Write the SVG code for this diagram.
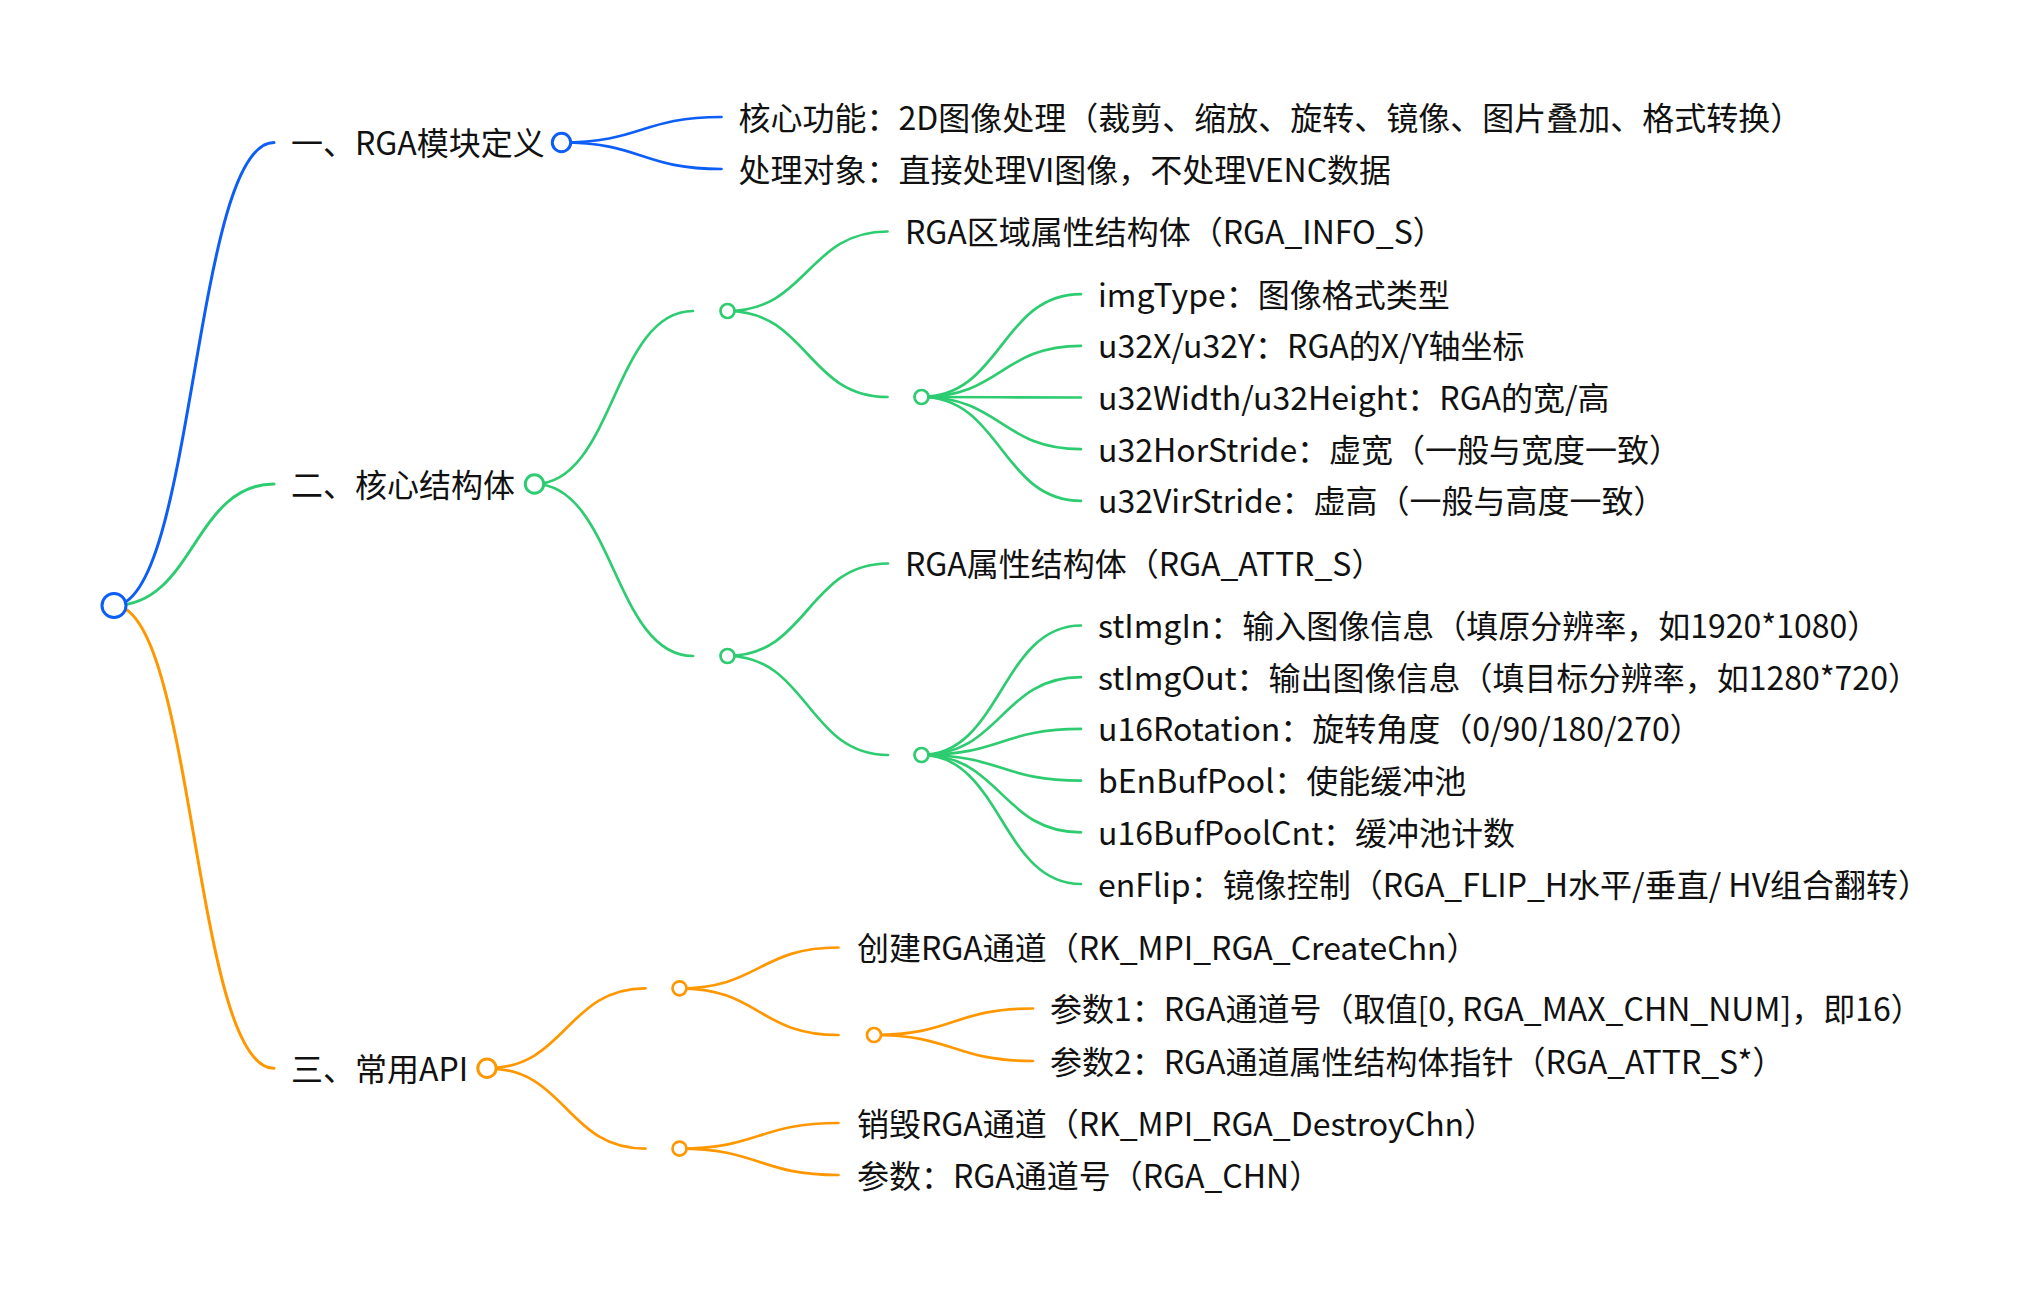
<svg xmlns="http://www.w3.org/2000/svg" width="2028" height="1292" viewBox="0 0 2028 1292">
<style>
.t{font-family:"Noto Sans CJK SC","Noto Sans",sans-serif;font-size:32px;fill:#111;}
.e{fill:none;stroke-linecap:round;}
.l1{stroke-width:3;}
.l2{stroke-width:2.7;}
.b{stroke:#0d5ef7;}
.g{stroke:#2ecc71;}
.o{stroke:#ff9800;}
.c{fill:#fff;}
</style>
<rect width="2028" height="1292" fill="#fff"/>
<g id="connectors">
<path class="e l1 b" d="M114,605.5 C194,605.5 194,142.5 274,142.5"/>
<path class="e l1 g" d="M114,605.5 C194,605.5 194,484 274,484"/>
<path class="e l1 o" d="M114,605.5 C194,605.5 194,1068.3 274,1068.3"/>
<path class="e l2 b" d="M561.5,142.5 C641.5,142.5 641.5,117 721.5,117"/>
<path class="e l2 b" d="M561.5,142.5 C641.5,142.5 641.5,169 721.5,169"/>
<path class="e l2 g" d="M534.5,484 C613.75,484 613.75,311 693,311"/>
<path class="e l2 g" d="M534.5,484 C613.75,484 613.75,656 693,656"/>
<path class="e l2 g" d="M727.5,311 C807.5,311 807.5,231.5 887.5,231.5"/>
<path class="e l2 g" d="M727.5,311 C807.5,311 807.5,397 887.5,397"/>
<path class="e l2 g" d="M921.5,397 C1001.25,397 1001.25,294.1 1081,294.1"/>
<path class="e l2 g" d="M921.5,397 C1001.25,397 1001.25,345.8 1081,345.8"/>
<path class="e l2 g" d="M921.5,397 C1001.25,397 1001.25,397.5 1081,397.5"/>
<path class="e l2 g" d="M921.5,397 C1001.25,397 1001.25,449.2 1081,449.2"/>
<path class="e l2 g" d="M921.5,397 C1001.25,397 1001.25,500.9 1081,500.9"/>
<path class="e l2 g" d="M727.5,656 C807.75,656 807.75,563.5 888,563.5"/>
<path class="e l2 g" d="M727.5,656 C807.75,656 807.75,755 888,755"/>
<path class="e l2 g" d="M921.5,755 C1001.25,755 1001.25,625.5 1081,625.5"/>
<path class="e l2 g" d="M921.5,755 C1001.25,755 1001.25,677.2 1081,677.2"/>
<path class="e l2 g" d="M921.5,755 C1001.25,755 1001.25,728.9 1081,728.9"/>
<path class="e l2 g" d="M921.5,755 C1001.25,755 1001.25,780.6 1081,780.6"/>
<path class="e l2 g" d="M921.5,755 C1001.25,755 1001.25,832.3 1081,832.3"/>
<path class="e l2 g" d="M921.5,755 C1001.25,755 1001.25,884 1081,884"/>
<path class="e l2 o" d="M487,1068.3 C566.25,1068.3 566.25,988.3 645.5,988.3"/>
<path class="e l2 o" d="M487,1068.3 C566.25,1068.3 566.25,1148.6 645.5,1148.6"/>
<path class="e l2 o" d="M679.5,988.3 C759,988.3 759,947.5 838.5,947.5"/>
<path class="e l2 o" d="M679.5,988.3 C759,988.3 759,1035 838.5,1035"/>
<path class="e l2 o" d="M874,1035 C953.5,1035 953.5,1008.5 1033,1008.5"/>
<path class="e l2 o" d="M874,1035 C953.5,1035 953.5,1061 1033,1061"/>
<path class="e l2 o" d="M679.5,1148.6 C759,1148.6 759,1123 838.5,1123"/>
<path class="e l2 o" d="M679.5,1148.6 C759,1148.6 759,1175 838.5,1175"/>
</g>
<g id="root"><circle class="c b" cx="114" cy="605.5" r="12" stroke-width="3"/></g>
<g id="n1"><text class="t" x="291" y="155">一、RGA模块定义</text><circle class="c b" cx="561.5" cy="142.5" r="9.2" stroke-width="3"/></g>
<g id="n1a"><text class="t" x="738.5" y="129.5">核心功能：2D图像处理（裁剪、缩放、旋转、镜像、图片叠加、格式转换）</text></g>
<g id="n1b"><text class="t" x="738.5" y="181.5">处理对象：直接处理VI图像，不处理VENC数据</text></g>
<g id="n2"><text class="t" x="291" y="496.5">二、核心结构体</text><circle class="c g" cx="534.5" cy="484" r="9.2" stroke-width="3"/></g>
<g id="h1"><circle class="c g" cx="727.5" cy="311" r="7" stroke-width="2.7"/></g>
<g id="n2a"><text class="t" x="905" y="244">RGA区域属性结构体（RGA_INFO_S）</text></g>
<g id="h1a"><circle class="c g" cx="921.5" cy="397" r="7" stroke-width="2.7"/></g>
<g id="n2a1"><text class="t" x="1098" y="306.6">imgType：图像格式类型</text></g>
<g id="n2a2"><text class="t" x="1098" y="358.3">u32X/u32Y：RGA的X/Y轴坐标</text></g>
<g id="n2a3"><text class="t" x="1098" y="410">u32Width/u32Height：RGA的宽/高</text></g>
<g id="n2a4"><text class="t" x="1098" y="461.7">u32HorStride：虚宽（一般与宽度一致）</text></g>
<g id="n2a5"><text class="t" x="1098" y="513.4">u32VirStride：虚高（一般与高度一致）</text></g>
<g id="h2"><circle class="c g" cx="727.5" cy="656" r="7" stroke-width="2.7"/></g>
<g id="n2b"><text class="t" x="905" y="576">RGA属性结构体（RGA_ATTR_S）</text></g>
<g id="h2a"><circle class="c g" cx="921.5" cy="755" r="7" stroke-width="2.7"/></g>
<g id="n2b1"><text class="t" x="1098" y="638">stImgIn：输入图像信息（填原分辨率，如1920*1080）</text></g>
<g id="n2b2"><text class="t" x="1098" y="689.7">stImgOut：输出图像信息（填目标分辨率，如1280*720）</text></g>
<g id="n2b3"><text class="t" x="1098" y="741.4">u16Rotation：旋转角度（0/90/180/270）</text></g>
<g id="n2b4"><text class="t" x="1098" y="793.1">bEnBufPool：使能缓冲池</text></g>
<g id="n2b5"><text class="t" x="1098" y="844.8">u16BufPoolCnt：缓冲池计数</text></g>
<g id="n2b6"><text class="t" x="1098" y="896.5">enFlip：镜像控制（RGA_FLIP_H水平/垂直/ HV组合翻转）</text></g>
<g id="n3"><text class="t" x="291" y="1080.8">三、常用API</text><circle class="c o" cx="487" cy="1068.3" r="9.2" stroke-width="3"/></g>
<g id="h3"><circle class="c o" cx="679.5" cy="988.3" r="7" stroke-width="2.7"/></g>
<g id="n3a"><text class="t" x="857" y="960">创建RGA通道（RK_MPI_RGA_CreateChn）</text></g>
<g id="h3a"><circle class="c o" cx="874" cy="1035" r="7" stroke-width="2.7"/></g>
<g id="n3a1"><text class="t" x="1050" y="1021">参数1：RGA通道号（取值[0, RGA_MAX_CHN_NUM]，即16）</text></g>
<g id="n3a2"><text class="t" x="1050" y="1073.5">参数2：RGA通道属性结构体指针（RGA_ATTR_S*）</text></g>
<g id="h3b"><circle class="c o" cx="679.5" cy="1148.6" r="7" stroke-width="2.7"/></g>
<g id="n3b"><text class="t" x="857" y="1135.5">销毁RGA通道（RK_MPI_RGA_DestroyChn）</text></g>
<g id="n3c"><text class="t" x="857" y="1187.5">参数：RGA通道号（RGA_CHN）</text></g>
</svg>
